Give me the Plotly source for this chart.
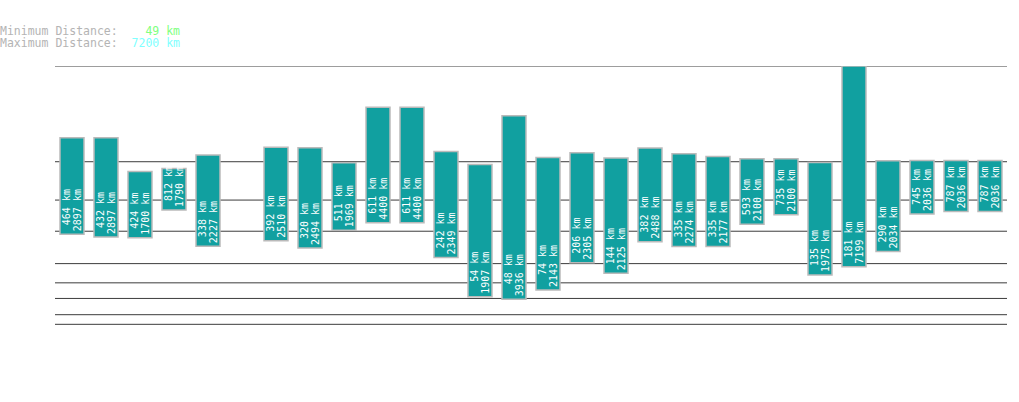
import plotly.graph_objects as go

# ---- data ----
slots = list(range(1, 29))
min_km = [464, 432, 424, 812, 338, None, 392, 320, 511, 611, 611, 242, 54, 48,
          74, 206, 144, 382, 335, 335, 593, 735, 135, 181, 290, 745, 787, 787]
max_km = [2897, 2897, 1700, 1790, 2227, None, 2510, 2494, 1969, 4400, 4400, 2349, 1907, 3936,
          2143, 2305, 2125, 2488, 2274, 2177, 2100, 2100, 1975, 7199, 2034, 2036, 2036, 2036]
grid_km = [10, 20, 50, 100, 200, 500, 1000, 2000, 7200]
overall_min = 49
overall_max = 7200

EXP = 0.3  # power scale exponent


def t(v):
    return None if v is None else v ** EXP


NB = "\u00a0"


def lab(v, width=7):
    if v is None:
        return ""
    return f"{v} km".rjust(width).replace(" ", NB)


base = [t(a) for a in min_km]
height = [None if a is None else t(b) - t(a) for a, b in zip(min_km, max_km)]

W, H = 1019, 402
ML, MR, MT = 55, 12, 66
MB = 36.4
plot_w = W - ML - MR
plot_h = H - MT - MB
step_px = plot_w / len(slots)
bar_w = 24 / step_px
half_gap = 5.5 / step_px
tw = 0.3

fig = go.Figure()
fig.add_trace(go.Bar(
    x=slots, y=height, base=base, width=bar_w,
    marker=dict(color="#11a0a0", line=dict(color="#bababa", width=1.5)),
    hoverinfo="skip", showlegend=False,
))
for txt, off in ((min_km, -half_gap - tw / 2), (max_km, half_gap - tw / 2)):
    fig.add_trace(go.Bar(
        x=slots, y=height, base=base, width=tw, offset=off,
        marker=dict(color="rgba(0,0,0,0)", line=dict(width=0)),
        text=[lab(v) if a is not None else "" for v, a in zip(txt, min_km)],
        textposition="inside", insidetextanchor="start", textangle=-90,
        constraintext="none",
        textfont=dict(family="DejaVu Sans Mono", size=10, color="white"),
        hoverinfo="skip", showlegend=False,
    ))

for g in grid_km:
    fig.add_shape(type="line", xref="paper", yref="y", x0=0, x1=1, y0=t(g), y1=t(g),
                  line=dict(color="#3c3c3c", width=1), layer="below")

hdr_font = dict(family="DejaVu Sans Mono", size=11.5, color="#b4b4b4")
line1 = "Minimum Distance:" + NB * 2 + f"<span style='color:#80ff80'>{lab(overall_min)}</span>"
line2 = "Maximum Distance:" + NB * 2 + f"<span style='color:#80ffff'>{lab(overall_max)}</span>"
for txt, py in ((line1, 31.5), (line2, 43.5)):
    fig.add_annotation(text=txt, xref="paper", yref="paper",
                       x=-ML / plot_w, y=(H - MB - py) / plot_h,
                       xanchor="left", yanchor="middle", showarrow=False,
                       borderpad=0, borderwidth=0, font=hdr_font, align="left")

fig.update_layout(
    width=W, height=H,
    margin=dict(l=ML, r=MR, t=MT, b=MB, pad=0),
    paper_bgcolor="white", plot_bgcolor="white",
    barmode="overlay", bargap=0,
    xaxis=dict(range=[0.5, 28.5], visible=False, fixedrange=True),
    yaxis=dict(range=[0, overall_max ** EXP], visible=False, fixedrange=True),
)

fig.write_html("out.html", config={"displayModeBar": False, "staticPlot": True},
               post_script="document.body.style.margin='0';document.body.style.overflow='hidden';")
